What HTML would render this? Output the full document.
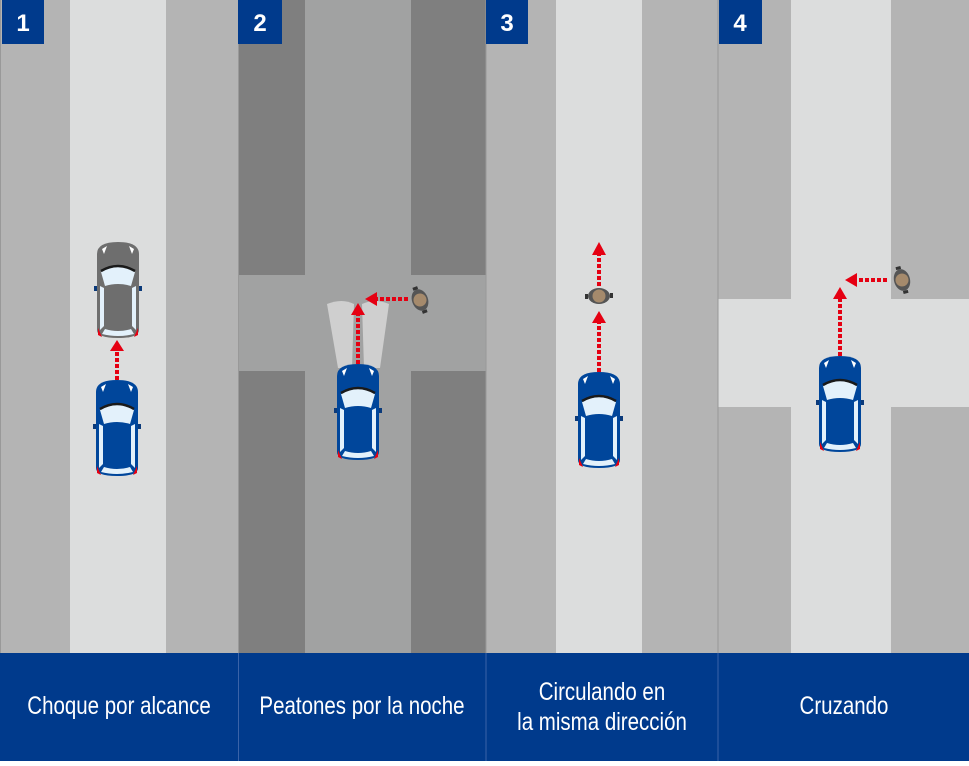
<!DOCTYPE html>
<html><head><meta charset="utf-8"><style>
body{margin:0;width:969px;height:761px;overflow:hidden;background:#fff;font-family:"Liberation Sans",sans-serif}
</style></head><body>
<svg width="969" height="761" viewBox="0 0 969 761" xmlns="http://www.w3.org/2000/svg">
<defs>
<g id="car">
 <rect x="-1" y="44" width="5" height="5" fill="#0b3a7a"/>
 <rect x="42" y="44" width="5" height="5" fill="#0b3a7a"/>
 <path d="M2 12 Q2 0 23 0 Q44 0 44 12 L44 88 Q44 96 23 96 Q2 96 2 88 Z" fill="currentColor"/>
 <path d="M6 30 Q23 20 40 30 L36 44 Q23 40 10 44 Z" fill="#e3f1fb"/>
 <path d="M6 29 Q23 19 40 29" stroke="#1a1a1a" stroke-width="2.5" fill="none"/>
 <path d="M5 44 L9 46 L9 84 L5 88 Z" fill="#e3f1fb"/>
 <path d="M41 44 L37 46 L37 84 L41 88 Z" fill="#e3f1fb"/>
 <path d="M10 87 Q23 91 36 87 L39 92 Q23 96 7 92 Z" fill="#e3f1fb"/>
 <path d="M3 86 L7 95 L3 93 Z M43 86 L39 95 L43 93 Z" fill="#e50012"/>
 <path d="M7 7 L12 4 L9 12 Z M39 7 L34 4 L37 12 Z" fill="#fff"/>
</g>
<g id="ped">
 <ellipse cx="0" cy="0" rx="8" ry="11" fill="#555"/>
 <circle cx="0" cy="0" r="6.5" fill="#a58a6c"/>
 <rect x="-3" y="-14" width="5" height="3" fill="#333"/>
 <rect x="-2" y="11" width="5" height="3" fill="#333"/>
</g>
</defs>
<rect x="0" y="0" width="238" height="653" fill="#b4b4b4"/>
<rect x="70" y="0" width="96" height="653" fill="#dcdddd"/>
<rect x="238" y="0" width="248" height="653" fill="#7f7f7f"/>
<rect x="305" y="0" width="106" height="653" fill="#a1a2a2"/>
<rect x="238" y="275" width="248" height="96" fill="#a1a2a2"/>
<rect x="486" y="0" width="232" height="653" fill="#b4b4b4"/>
<rect x="556" y="0" width="86" height="653" fill="#dcdddd"/>
<rect x="718" y="0" width="251" height="653" fill="#b4b4b4"/>
<rect x="791" y="0" width="100" height="653" fill="#dcdddd"/>
<rect x="718" y="299" width="251" height="108" fill="#dcdddd"/>
<line x1="0.5" y1="0" x2="0.5" y2="653" stroke="#999"/>
<line x1="238.5" y1="0" x2="238.5" y2="653" stroke="#999"/>
<line x1="486" y1="0" x2="486" y2="653" stroke="#999"/>
<line x1="718" y1="0" x2="718" y2="653" stroke="#999"/>
<path d="M338 368 L327 304 Q342 298 354 304 L352 368 Z" fill="#cfcfcf"/>
<path d="M364 368 L362 304 Q375 298 389 304 L380 368 Z" fill="#cfcfcf"/>
<use href="#car" x="95" y="242" style="color:#6e6e6e"/>
<use href="#car" x="94" y="380" style="color:#00469b"/>
<use href="#car" x="335" y="364" style="color:#00469b"/>
<use href="#car" x="576" y="372" style="color:#00469b"/>
<use href="#car" x="817" y="356" style="color:#00469b"/>
<use href="#ped" transform="translate(420,300) rotate(-20)"/>
<use href="#ped" transform="translate(599,296) rotate(90)"/>
<use href="#ped" transform="translate(902,280) rotate(-15)"/>
<g stroke="#e50012" stroke-width="4" stroke-dasharray="4 2" fill="none">
 <line x1="117" y1="380" x2="117" y2="350"/>
 <line x1="358" y1="364" x2="358" y2="314"/>
 <line x1="408" y1="299" x2="376" y2="299"/>
 <line x1="599" y1="372" x2="599" y2="322"/>
 <line x1="599" y1="286" x2="599" y2="254"/>
 <line x1="840" y1="356" x2="840" y2="298"/>
 <line x1="887" y1="280" x2="856" y2="280"/>
</g>
<g fill="#e50012">
 <path d="M110 351 L117 340 L124 351 Z"/>
 <path d="M351 315 L358 303 L365 315 Z"/>
 <path d="M377 292 L365 299 L377 306 Z"/>
 <path d="M592 323 L599 311 L606 323 Z"/>
 <path d="M592 255 L599 242 L606 255 Z"/>
 <path d="M833 299 L840 287 L847 299 Z"/>
 <path d="M857 273 L845 280 L857 287 Z"/>
</g>
<g fill="#003a8c">
 <rect x="2" y="0" width="42" height="44"/>
 <rect x="238" y="0" width="44" height="44"/>
 <rect x="486" y="0" width="42" height="44"/>
 <rect x="719" y="0" width="43" height="44"/>
</g>
<g fill="#fff" font-size="24" font-weight="bold" text-anchor="middle">
 <text x="23" y="31">1</text><text x="260" y="31">2</text><text x="507" y="31">3</text><text x="740" y="31">4</text>
</g>
<rect x="0" y="653" width="969" height="108" fill="#003a8c"/>
<g stroke="#3a63a8" stroke-width="1">
 <line x1="238.5" y1="653" x2="238.5" y2="761"/>
 <line x1="486" y1="653" x2="486" y2="761"/>
 <line x1="718" y1="653" x2="718" y2="761"/>
</g>
<g fill="#fff" font-size="25" text-anchor="middle">
 <text transform="translate(119,714) scale(0.82,1)">Choque por alcance</text>
 <text transform="translate(362,714) scale(0.82,1)">Peatones por la noche</text>
 <text transform="translate(602,700) scale(0.82,1)">Circulando en</text>
 <text transform="translate(602,730) scale(0.82,1)">la misma dirección</text>
 <text transform="translate(844,714) scale(0.82,1)">Cruzando</text>
</g>
</svg>
</body></html>
